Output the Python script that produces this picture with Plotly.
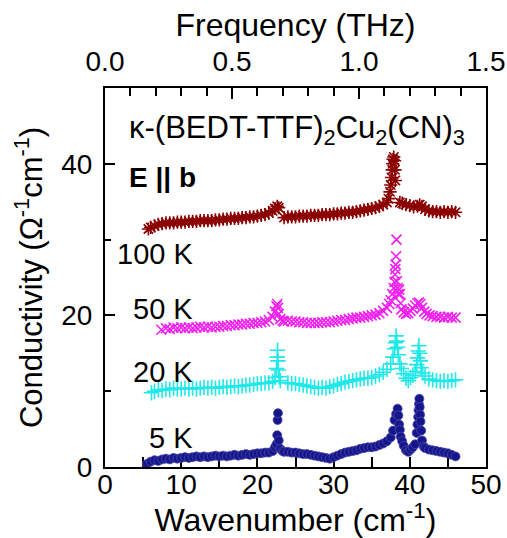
import plotly.graph_objects as go

# Optical conductivity of kappa-(BEDT-TTF)2Cu2(CN)3, E || b, curves offset for clarity
wn_5K = [5.5, 6.0, 6.5, 7.0, 7.5, 8.0, 8.5, 9.0, 9.5, 10.0, 10.5, 11.0, 11.5, 12.0, 12.5, 13.0,
         13.5, 14.0, 14.5, 15.0, 15.5, 16.0, 16.5, 17.0, 17.5, 18.0, 18.5, 19.0, 19.5, 20.0,
         20.5, 21.0, 21.5, 22.0, 22.3, 22.5, 22.6, 22.65, 22.7, 22.8, 23.0, 23.3, 23.5, 24.0,
         24.5, 25.0, 25.5, 26.0, 26.5, 27.0, 27.5, 28.0, 28.5, 29.0, 29.5, 30.0, 30.5, 31.0,
         31.5, 32.0, 32.5, 33.0, 33.5, 34.0, 34.5, 35.0, 35.5, 36.0, 36.5, 37.0, 37.5, 37.8,
         38.0, 38.2, 38.4, 38.5, 38.6, 38.7, 38.8, 39.0, 39.2, 39.5, 39.8, 40.1, 40.4, 40.7,
         40.9, 41.0, 41.1, 41.15, 41.2, 41.25, 41.3, 41.35, 41.4, 41.5, 41.6, 41.8, 42.0, 42.5,
         43.0, 43.5, 44.0, 44.5, 45.0, 45.5, 46.0]
sig_5K = [0.4, 0.7, 0.9, 0.8, 1.0, 1.1, 1.0, 1.2, 1.1, 1.2, 1.3, 1.2, 1.3, 1.4, 1.3, 1.4,
          1.3, 1.4, 1.5, 1.4, 1.5, 1.4, 1.5, 1.6, 1.5, 1.6, 1.7, 1.6, 1.7, 1.8,
          1.8, 1.9, 1.9, 2.1, 2.6, 3.0, 4.2, 6.2, 7.1, 3.5, 2.4, 2.1, 2.0, 2.0,
          1.9, 1.9, 1.8, 1.7, 1.7, 1.6, 1.5, 1.4, 1.3, 1.2, 1.1, 1.3, 1.5, 1.7,
          1.9, 2.0, 2.1, 2.2, 2.4, 2.5, 2.6, 2.6, 2.7, 2.9, 3.1, 3.4, 3.9, 4.8,
          6.2, 7.0, 7.7, 6.8, 5.6, 4.9, 4.0, 3.4, 2.8, 2.2, 2.0, 2.3, 2.6, 3.0,
          4.5, 5.6, 6.6, 7.5, 8.3, 9.0, 7.9, 6.9, 6.0, 4.8, 3.5, 2.7, 2.5, 2.3,
          2.2, 2.1, 2.0, 1.9, 1.8, 1.6, 1.4]

wn_20K = [6.1, 6.5, 7.0, 7.5, 8.0, 8.5, 9.0, 9.5, 10.0, 10.5, 11.0, 11.5, 12.0, 12.5, 13.0,
          13.5, 14.0, 14.5, 15.0, 15.5, 16.0, 16.5, 17.0, 17.5, 18.0, 18.5, 19.0, 19.5, 20.0,
          20.5, 21.0, 21.5, 22.0, 22.3, 22.5, 22.6, 22.65, 22.7, 22.75, 22.85, 23.0, 24.0,
          24.5, 25.0, 25.5, 26.0, 26.5, 27.0, 27.5, 28.0, 28.5, 29.0, 29.5, 30.0, 30.5, 31.0,
          31.5, 32.0, 32.5, 33.0, 33.5, 34.0, 34.5, 35.0, 35.5, 36.0, 36.5, 37.0, 37.5, 37.8,
          38.0, 38.1, 38.2, 38.3, 38.4, 38.5, 38.7, 38.9, 39.2, 39.5, 39.8, 40.1, 40.4, 40.7,
          40.9, 41.0, 41.1, 41.2, 41.3, 41.4, 41.5, 41.7, 42.0, 42.5, 43.0, 43.5, 44.0, 44.5,
          45.0, 45.5, 46.0]
sig_20K = [9.8, 10.0, 10.2, 10.1, 10.3, 10.2, 10.4, 10.3, 10.3, 10.4, 10.3, 10.4, 10.3, 10.4, 10.5,
           10.4, 10.5, 10.4, 10.5, 10.6, 10.5, 10.6, 10.7, 10.6, 10.7, 10.8, 10.8, 10.9, 11.0,
           11.0, 11.1, 11.1, 11.3, 11.8, 13.0, 14.5, 15.4, 14.0, 12.8, 11.9, 11.4, 11.1,
           11.0, 11.0, 10.9, 10.8, 10.7, 10.6, 10.5, 10.4, 10.5, 10.4, 10.6, 10.7, 10.9, 11.0,
           11.2, 11.3, 11.4, 11.5, 11.6, 11.7, 11.7, 11.8, 12.0, 12.2, 12.5, 12.9, 13.6, 14.5,
           15.6, 16.4, 17.3, 16.6, 15.8, 14.8, 13.6, 13.0, 12.3, 11.7, 11.4, 11.8, 12.1, 12.6,
           13.5, 14.4, 15.3, 16.0, 15.0, 14.0, 13.1, 12.4, 12.0, 11.6, 11.5, 11.4, 11.3, 11.4,
           11.3, 11.4, 11.5]

wn_50K = [7.4, 8.0, 8.5, 9.0, 9.5, 10.0, 10.5, 11.0, 11.5, 12.0, 12.5, 13.0, 13.5, 14.0, 14.5,
          15.0, 15.5, 16.0, 16.5, 17.0, 17.5, 18.0, 18.5, 19.0, 19.5, 20.0, 20.5, 21.0, 21.5,
          22.0, 22.3, 22.5, 22.6, 22.7, 22.8, 23.0, 23.3, 23.5, 24.0, 24.5, 25.0, 25.5, 26.0,
          26.5, 27.0, 27.5, 28.0, 28.5, 29.0, 29.5, 30.0, 30.5, 31.0, 31.5, 32.0, 32.5, 33.0,
          33.5, 34.0, 34.5, 35.0, 35.5, 36.0, 36.5, 37.0, 37.3, 37.5, 37.7, 37.9, 38.0, 38.05,
          38.1, 38.15, 38.2, 38.25, 38.3, 38.4, 38.5, 38.6, 38.7, 38.8, 38.9, 39.2, 39.5, 39.8,
          40.1, 40.4, 40.7, 41.0, 41.2, 41.4, 41.6, 41.9, 42.2, 42.6, 43.0, 43.5, 44.0, 44.5,
          45.0, 45.5, 46.0]
sig_50K = [18.1, 18.3, 18.2, 18.4, 18.3, 18.4, 18.3, 18.4, 18.3, 18.4, 18.5, 18.4, 18.5, 18.4, 18.5,
           18.5, 18.6, 18.6, 18.7, 18.7, 18.8, 18.8, 18.9, 18.9, 19.0, 19.0, 19.1, 19.2, 19.4,
           19.8, 20.5, 21.2, 21.5, 21.0, 20.2, 19.5, 19.3, 19.2, 19.3, 19.2, 19.2, 19.1, 19.1,
           19.0, 19.0, 19.0, 19.0, 19.1, 19.1, 19.1, 19.2, 19.3, 19.4, 19.4, 19.5, 19.6, 19.7,
           19.7, 19.8, 19.9, 20.0, 20.1, 20.3, 20.6, 21.0, 21.5, 22.0, 22.8, 23.6, 24.4, 25.4,
           26.1, 26.7, 27.8, 30.0, 24.5, 23.6, 22.8, 23.4, 22.8, 21.6, 20.8, 20.4, 20.2, 20.3,
           20.6, 20.9, 21.3, 21.6, 21.7, 21.5, 21.0, 20.5, 20.2, 20.0, 19.9, 19.8, 19.8, 19.7,
           19.8, 19.7, 19.7]

wn_100K = [5.7, 6.0, 6.5, 7.0, 7.5, 8.0, 8.5, 9.0, 9.5, 10.0, 10.5, 11.0, 11.5, 12.0, 12.5,
           13.0, 13.5, 14.0, 14.5, 15.0, 15.5, 16.0, 16.5, 17.0, 17.5, 18.0, 18.5, 19.0, 19.5,
           20.0, 20.5, 21.0, 21.5, 22.0, 22.3, 22.6, 22.8, 23.5, 24.0, 24.5, 25.0, 25.5, 26.0,
           26.5, 27.0, 27.5, 28.0, 28.5, 29.0, 29.5, 30.0, 30.5, 31.0, 31.5, 32.0, 32.5, 33.0,
           33.5, 34.0, 34.5, 35.0, 35.5, 36.0, 36.5, 37.0, 37.2, 37.4, 37.5, 37.6, 37.7, 37.75,
           37.8, 37.9, 38.0, 38.05, 38.1, 38.7, 39.0, 39.5, 40.0, 40.5, 41.0, 41.3, 41.6, 42.0,
           42.5, 43.0, 43.5, 44.0, 44.5, 45.0, 45.5, 46.0]
sig_100K = [31.4, 31.6, 31.8, 32.0, 32.1, 32.2, 32.2, 32.2, 32.3, 32.3, 32.3, 32.4, 32.4, 32.4, 32.5,
            32.5, 32.5, 32.5, 32.6, 32.6, 32.7, 32.7, 32.8, 32.8, 32.8, 32.9, 32.9, 33.0, 33.0,
            33.1, 33.2, 33.3, 33.5, 33.8, 34.1, 34.4, 34.2, 32.9, 33.0, 33.0, 33.0, 33.1, 33.1,
            33.1, 33.2, 33.2, 33.2, 33.3, 33.3, 33.3, 33.4, 33.4, 33.5, 33.5, 33.6, 33.6, 33.7,
            33.8, 33.9, 34.0, 34.1, 34.2, 34.4, 34.6, 34.9, 35.4, 36.3, 37.2, 38.2, 39.2, 40.0,
            40.6, 40.9, 40.4, 39.2, 37.8, 34.9, 34.8, 34.6, 34.5, 34.3, 34.4, 34.6, 34.4, 34.0,
            33.8, 33.7, 33.7, 33.6, 33.7, 33.6, 33.7, 33.6]

FONT = "Liberation Sans, Arial, sans-serif"

fig = go.Figure()

fig.add_trace(go.Scatter(x=wn_100K, y=sig_100K, mode="markers", name="100 K",
                         marker=dict(symbol="asterisk-open", size=11, color="#8b0000",
                                     line=dict(width=1.6, color="#8b0000"))))
fig.add_trace(go.Scatter(x=wn_50K, y=sig_50K, mode="markers", name="50 K",
                         marker=dict(symbol="x-thin-open", size=10, color="#f020f0",
                                     line=dict(width=1.6, color="#f020f0"))))
fig.add_trace(go.Scatter(x=wn_20K, y=sig_20K, mode="markers", name="20 K",
                         marker=dict(symbol="cross-thin-open", size=11, color="#20e8e8",
                                     line=dict(width=1.6, color="#20e8e8"))))
fig.add_trace(go.Scatter(x=wn_5K, y=sig_5K, mode="markers", name="5 K",
                         marker=dict(symbol="circle", size=9, color="#15158c",
                                     line=dict(width=0.8, color="#4a4aa8"))))
# empty trace carrying the frequency axis (1 THz = 33.356 cm^-1)
fig.add_trace(go.Scatter(x=[], y=[], xaxis="x2", yaxis="y", hoverinfo="skip",
                         showlegend=False))

axis_common = dict(showline=True, linecolor="black", linewidth=2, showgrid=False,
                   zeroline=False, ticks="inside", tickcolor="black", tickwidth=2,
                   layer="below traces", automargin=False)

fig.update_layout(
    width=507, height=538,
    margin=dict(l=105, r=21, t=88, b=71),
    paper_bgcolor="white", plot_bgcolor="white",
    showlegend=False,
    font=dict(family=FONT, color="black"),
    xaxis=dict(range=[0, 50], tickvals=[0, 10, 20, 30, 40, 50], ticklen=10,
               minor=dict(dtick=5, tick0=0, ticks="inside", ticklen=10, tickcolor="black",
                          tickwidth=2),
               ticklabelstandoff=-9,
               tickfont=dict(size=28), title=dict(text="Wavenumber (cm<sup>-1</sup>)",
                                                   font=dict(size=32), standoff=7),
               **axis_common),
    xaxis2=dict(range=[0, 1.5], overlaying="x", side="top", anchor="y",
                tickvals=[0, 0.5, 1.0, 1.5], ticktext=["0.0", "0.5", "1.0", "1.5"],
                ticklen=11, ticklabelstandoff=4,
                minor=dict(dtick=0.1, tick0=0, ticks="inside", ticklen=8, tickcolor="black",
                           tickwidth=2),
                tickfont=dict(size=28), title=dict(text="Frequency (THz)",
                                                    font=dict(size=32), standoff=0),
                **axis_common),
    yaxis=dict(range=[0, 50], tickvals=[0, 20, 40], ticklen=10, mirror="ticks",
               ticklabelstandoff=5,
               minor=dict(tickvals=[10, 30], ticks="inside", ticklen=6, tickcolor="black",
                          tickwidth=2),
               tickfont=dict(size=28),
               title=dict(text="Conductivity (Ω<sup>-1</sup>cm<sup>-1</sup>)",
                          font=dict(size=31), standoff=9),
               **axis_common),
)

labels = [("100 K", 28.1), ("50 K", 20.9), ("20 K", 12.5), ("5 K", 3.8)]
for txt, yv in labels:
    fig.add_annotation(x=11.8, y=yv, xref="x", yref="y", text=txt, showarrow=False,
                       xanchor="right", yanchor="middle", font=dict(size=29, family=FONT))

fig.add_annotation(x=2.9, y=44.4, xref="x", yref="y", xanchor="left", yanchor="middle",
                   showarrow=False, font=dict(size=31, family=FONT),
                   text="κ-(BEDT-TTF)<sub>2</sub>Cu<sub>2</sub>(CN)<sub>3</sub>")
fig.add_annotation(x=2.9, y=38.2, xref="x", yref="y", xanchor="left", yanchor="middle",
                   showarrow=False, font=dict(size=28, family=FONT),
                   text="<b>E || b</b>")

fig.write_html("out.html")
